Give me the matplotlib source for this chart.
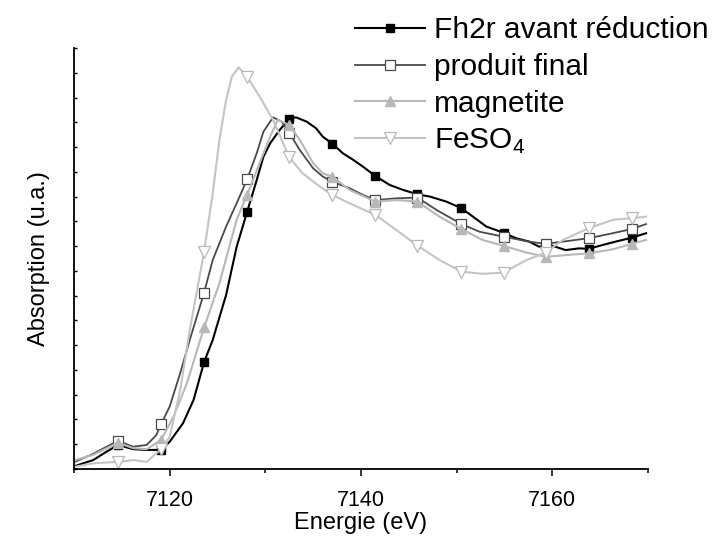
import matplotlib.pyplot as plt
import numpy as np
from matplotlib import font_manager

# energies des marqueurs (communes aux 4 courbes)
marqueurs = [7114.6, 7119.1, 7123.6, 7128.1, 7132.5, 7137.0, 7141.5,
             7145.9, 7150.5, 7154.9, 7159.3, 7163.8, 7168.3]

E_fh2r = [7110.1, 7112.0, 7113.4, 7114.6, 7116.2, 7117.6, 7119.1, 7120.0, 7121.4, 7122.5,
          7123.6, 7124.5, 7125.9, 7127.0, 7128.1, 7129.1, 7129.8, 7130.5, 7131.5, 7132.5,
          7133.2, 7134.3, 7135.3, 7136.0, 7137.0, 7138.1, 7139.2, 7140.2, 7141.5, 7143.0,
          7144.4, 7145.9, 7147.2, 7148.9, 7150.5, 7151.7, 7153.1, 7154.9, 7156.2, 7157.6,
          7158.6, 7159.3, 7159.7, 7161.4, 7162.8, 7163.8, 7165.3, 7166.6, 7168.3, 7169.8]
A_fh2r = [0.012, 0.036, 0.070, 0.097, 0.080, 0.077, 0.077, 0.110, 0.185, 0.279,
          0.432, 0.521, 0.703, 0.897, 1.039, 1.167, 1.261, 1.315, 1.369, 1.414,
          1.420, 1.403, 1.376, 1.342, 1.314, 1.275, 1.248, 1.221, 1.183, 1.147,
          1.127, 1.109, 1.100, 1.080, 1.053, 1.019, 0.979, 0.954, 0.932, 0.918,
          0.898, 0.900, 0.905, 0.884, 0.891, 0.889, 0.905, 0.918, 0.934, 0.952]

E_final = [7110.1, 7112.0, 7113.4, 7114.6, 7116.2, 7117.6, 7118.6, 7119.1, 7120.0, 7121.1,
           7122.1, 7123.6, 7124.5, 7125.9, 7127.0, 7128.1, 7129.1, 7129.8, 7130.8, 7131.7,
           7132.5, 7133.6, 7135.0, 7136.0, 7137.0, 7138.8, 7140.2, 7141.5, 7143.7, 7145.9,
           7147.9, 7150.5, 7152.4, 7154.9, 7157.6, 7159.3, 7161.1, 7163.8, 7166.3, 7168.3,
           7169.8]
A_final = [0.029, 0.061, 0.090, 0.113, 0.090, 0.097, 0.137, 0.181, 0.252, 0.387,
           0.521, 0.712, 0.844, 0.979, 1.073, 1.170, 1.275, 1.362, 1.420, 1.403,
           1.358, 1.288, 1.214, 1.181, 1.160, 1.134, 1.107, 1.086, 1.093, 1.096,
           1.046, 0.989, 0.958, 0.938, 0.918, 0.909, 0.918, 0.932, 0.952, 0.969,
           0.989]

E_magn = [7110.1, 7112.0, 7114.6, 7116.2, 7117.6, 7119.1, 7120.4, 7121.8, 7123.6, 7125.2,
          7127.0, 7128.1, 7129.4, 7130.5, 7131.3, 7132.5, 7133.6, 7135.0, 7136.0, 7137.0,
          7138.8, 7141.5, 7143.7, 7145.9, 7148.2, 7150.5, 7152.7, 7154.9, 7157.3, 7159.3,
          7163.8, 7166.3, 7168.3, 7169.8]
A_magn = [0.036, 0.057, 0.106, 0.084, 0.080, 0.117, 0.211, 0.346, 0.572, 0.750,
          1.006, 1.107, 1.235, 1.342, 1.410, 1.389, 1.329, 1.235, 1.194, 1.181,
          1.127, 1.080, 1.086, 1.080, 1.019, 0.969, 0.925, 0.901, 0.874, 0.857,
          0.871, 0.887, 0.909, 0.925]

E_feso4 = [7110.1, 7112.0, 7114.6, 7116.2, 7117.6, 7119.1, 7120.0, 7121.1, 7122.1, 7123.6,
           7124.5, 7125.2, 7125.9, 7126.5, 7127.2, 7128.1, 7129.4, 7130.8, 7132.5, 7133.9,
           7135.7, 7137.0, 7138.8, 7141.5, 7143.7, 7145.9, 7148.2, 7150.5, 7152.7, 7154.9,
           7157.3, 7159.3, 7161.1, 7163.8, 7166.3, 7168.3, 7169.8]
A_feso4 = [0.009, 0.023, 0.029, 0.036, 0.029, 0.080, 0.130, 0.319, 0.561, 0.878,
           1.113, 1.329, 1.490, 1.584, 1.622, 1.584, 1.504, 1.410, 1.259, 1.194,
           1.140, 1.107, 1.073, 1.026, 0.965, 0.902, 0.844, 0.797, 0.788, 0.793,
           0.844, 0.874, 0.925, 0.972, 1.006, 1.013, 1.019]

plt.rcParams['font.family'] = ['Liberation Sans', 'DejaVu Sans']
plt.rcParams['mathtext.fontset'] = 'custom'
plt.rcParams['mathtext.rm'] = 'Liberation Sans'

noms = {f.name for f in font_manager.fontManager.ttflist}
police_axe = 'Liberation Sans Narrow' if 'Liberation Sans Narrow' in noms else 'Liberation Sans'


def indices(E):
    E = np.round(np.array(E), 1)
    return [i for i, e in enumerate(E) if e in marqueurs]


fig = plt.figure(figsize=(7.13, 5.42), dpi=100)
ax = fig.add_axes([74 / 713, 1 - 469 / 542, (648 - 74) / 713, (469 - 48) / 542])

ax.plot(E_fh2r, A_fh2r, color='black', lw=1.5, marker='s', ms=6,
        mfc='black', mec='black', markevery=indices(E_fh2r), label='Fh2r avant réduction')
ax.plot(E_final, A_final, color='#4a4a4a', lw=1.3, marker='s', ms=6.5,
        mfc='white', mec='#4a4a4a', mew=0.9, markevery=indices(E_final), label='produit final')
ax.plot(E_magn, A_magn, color='#b8b8b8', lw=1.5, marker='^', ms=7.5,
        mfc='#b8b8b8', mec='#b8b8b8', markevery=indices(E_magn), label='magnetite')
ax.plot(E_feso4, A_feso4, color='#c4c4c4', lw=1.5, marker='v', ms=8.5,
        mfc='white', mec='#b8b8b8', mew=0.9, markevery=indices(E_feso4),
        label='FeSO$_\\mathregular{4}$')

ax.set_xlim(7110, 7170)
ax.set_ylim(0, 1.7)

ax.spines['top'].set_visible(False)
ax.spines['right'].set_visible(False)
ax.spines['left'].set_linewidth(1.3)
ax.spines['bottom'].set_linewidth(1.3)

ax.set_xticks([7120, 7140, 7160])
ax.set_xticks([7110, 7130, 7150, 7170], minor=True)
ax.set_yticks(np.arange(0, 1.71, 0.1))
ax.set_yticklabels([])
ax.tick_params(axis='x', which='major', direction='out', length=5, width=1.1, pad=10)
ax.tick_params(axis='x', which='minor', direction='out', length=3, width=1.1)
ax.tick_params(axis='y', which='major', direction='in', length=2.5, width=1.0)
for t in ax.get_xticklabels():
    t.set_fontfamily([police_axe, 'DejaVu Sans'])
    t.set_fontsize(15.5)

ax.set_xlabel('Energie (eV)', fontsize=17, labelpad=1)
ax.set_ylabel('Absorption (u.a.)', fontsize=17, labelpad=14)

ax.legend(loc='upper left', bbox_to_anchor=(355 / 713, 1 - 16 / 542),
          bbox_transform=fig.transFigure, frameon=False, fontsize=21.5,
          handlelength=2.35, handletextpad=0.3, labelspacing=0.3,
          borderpad=0, borderaxespad=0)

fig.savefig('out.png', dpi=100)
